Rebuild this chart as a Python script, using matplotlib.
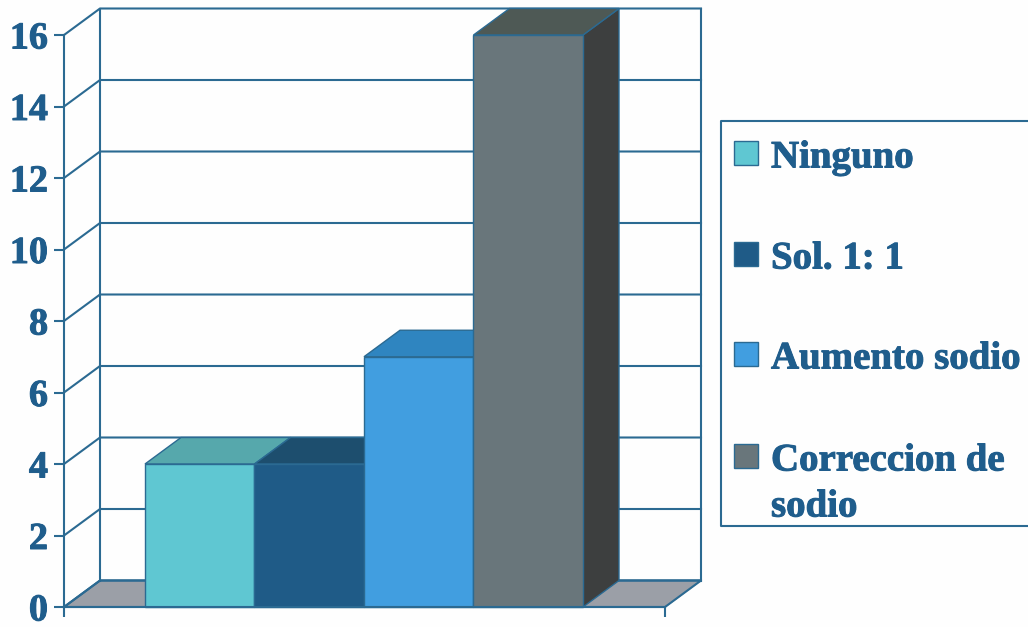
import matplotlib
matplotlib.use('Agg')
import matplotlib.pyplot as plt
import matplotlib.patheffects as pe
from matplotlib.patches import Rectangle

categories = ['Ninguno', 'Sol. 1: 1', 'Aumento sodio', 'Correccion de\nsodio']
values = [4, 4, 7, 16]
y_ticks = [0, 2, 4, 6, 8, 10, 12, 14, 16]

front_colors = ['#5fc7d2', '#1f5b87', '#419ee0', '#69767b']
top_colors = ['#56a8ac', '#1d4e6e', '#2f85c0', '#4e5955']
side_colors = ['#1d4e6e', '#1d4e6e', '#2f85c0', '#3d3f3f']
legend_colors = ['#5fc7d2', '#1f5b87', '#419ee0', '#69767b']

LINE = '#2b6a92'
TEXT = '#1f5d8c'
W, H = 1028, 627

plt.rcParams['font.family'] = ['Liberation Serif', 'DejaVu Serif']
plt.rcParams['font.weight'] = 'bold'

fig = plt.figure(figsize=(W / 100, H / 100), dpi=100, facecolor='#fefefe')

# a thin outline thickens the bold serif a little
heavy = [pe.withStroke(linewidth=0.7, foreground=TEXT)]


def fx(px):
    return px / W


def fy(py):
    return 1 - py / H


# front plane of the 3d box runs 64..665 px across, 607..35 px down
ax = fig.add_axes([fx(64), fy(607), (665 - 64) / W, (607 - 35) / H])
bar_px = 109.5
x_left = -0.5 - (145 - 64) / bar_px
x_right = x_left + (665 - 64) / bar_px
ax.set_xlim(x_left, x_right)
ax.set_ylim(0, 16)
ax.patch.set_alpha(0)

# depth of the box, in data units
dx = 36 / bar_px
dy = 26.5 * 16 / (607 - 35)

for s in ['top', 'right']:
    ax.spines[s].set_visible(False)
for s in ['left', 'bottom']:
    ax.spines[s].set_color(LINE)
    ax.spines[s].set_linewidth(1.5)
    ax.spines[s].set_zorder(6)

ax.set_yticks(y_ticks)
ax.set_xticks([x_left, x_right])
ax.set_xticklabels(['', ''])
ax.tick_params(axis='y', length=7, width=1.5, color=LINE, labelcolor=TEXT,
               labelsize=27.5, pad=4.5)
ax.tick_params(axis='x', length=7.5, width=1.5, color=LINE)
for lab in ax.get_yticklabels():
    lab.set_fontweight('bold')
    lab.set_verticalalignment('center_baseline')
    lab.set_path_effects(heavy)

# floor
ax.fill([x_left, x_right, x_right + dx, x_left + dx], [0, 0, dy, dy],
        color='#9b9fa7', zorder=1, clip_on=False)
ax.plot([x_left, x_right, x_right + dx, x_left + dx, x_left],
        [0, 0, dy, dy, 0], color=LINE, lw=1.5, zorder=2, clip_on=False)

# walls and gridlines
for t in y_ticks:
    ax.plot([x_left, x_left + dx, x_right + dx], [t, t + dy, t + dy],
            color=LINE, lw=1.5, zorder=2, clip_on=False)
ax.plot([x_left + dx] * 2, [dy, 16 + dy], color=LINE, lw=1.5, zorder=2, clip_on=False)
ax.plot([x_right + dx] * 2, [dy, 16 + dy], color=LINE, lw=1.5, zorder=2, clip_on=False)

# bars, left to right so each one covers the side of the one before
for i, v in enumerate(values):
    l, r = i - 0.5, i + 0.5
    z = 3 + i * 0.1
    ax.fill([r, r + dx, r + dx, r], [0, dy, v + dy, v], facecolor=side_colors[i],
            edgecolor=LINE, lw=1, zorder=z, clip_on=False)
    ax.fill([l, r, r + dx, l + dx], [v, v, v + dy, v + dy], facecolor=top_colors[i],
            edgecolor=LINE, lw=1, zorder=z, clip_on=False)
    ax.bar(i, v, width=1, color=front_colors[i], edgecolor=LINE, lw=1, zorder=z,
           clip_on=False)

# legend box is open on the right, it runs off the page
fig.add_artist(plt.Line2D([fx(1030), fx(721), fx(721), fx(1030)],
                          [fy(121), fy(121), fy(526), fy(526)], color=LINE, lw=1.5))

swatch_tops = [141, 242, 342, 444]
text_mids = [158, 259, 359, 461]
for name, col, st, tm in zip(categories, legend_colors, swatch_tops, text_mids):
    fig.add_artist(Rectangle((fx(734), fy(st + 24)), 24 / W, 24 / H, facecolor=col,
                             edgecolor=LINE, lw=1, transform=fig.transFigure))
    first_line = name.split('\n')[0]
    fig.text(fx(771), fy(tm), first_line, color=TEXT, fontsize=28, fontweight='bold',
             va='center', ha='left', path_effects=heavy)
    if '\n' in name:
        fig.text(fx(771), fy(tm + 46), name.split('\n')[1], color=TEXT, fontsize=28,
                 fontweight='bold', va='center', ha='left', path_effects=heavy)

fig.savefig('out.png', dpi=100, facecolor=fig.get_facecolor())
